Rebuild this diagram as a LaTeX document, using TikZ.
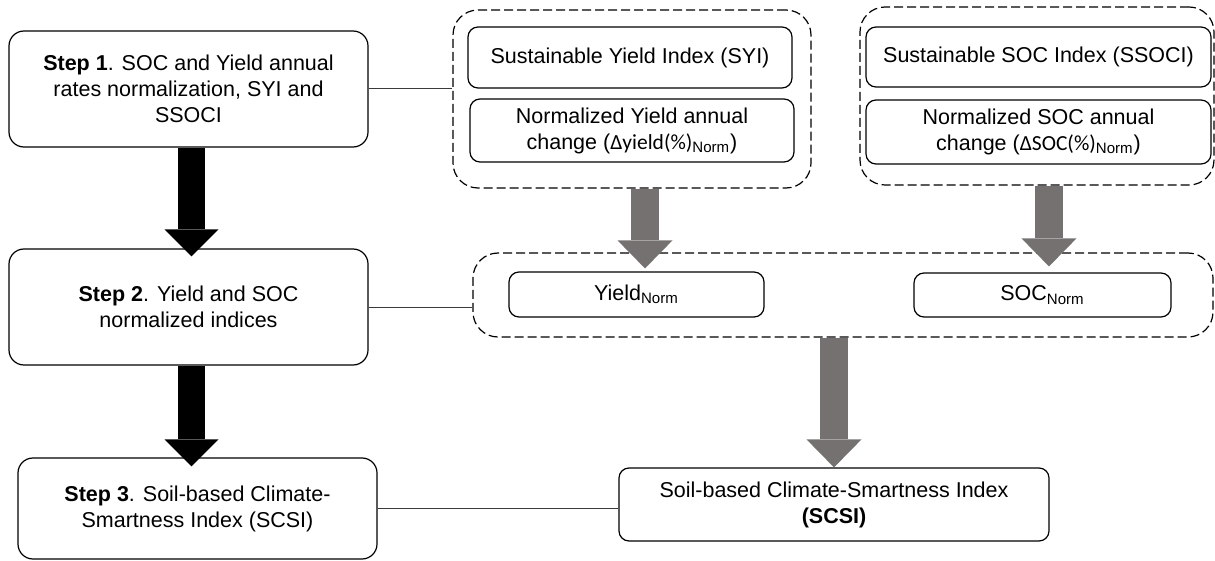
\documentclass[tikz,border=0pt]{standalone}
\usepackage{fontspec}
\setmainfont{Liberation Sans}
\newfontfamily\calibri{Carlito}
\usetikzlibrary{arrows.meta}
\definecolor{arrowgray}{HTML}{767171}
\definecolor{linegray}{HTML}{3A3A3A}
\tikzset{
  txt/.style={font=\fontsize{10.75}{13}\selectfont, align=center, inner sep=0pt},
  stepbox/.style={txt, draw, line width=0.6pt, rounded corners=7.5pt},
  itembox/.style={txt, draw, line width=0.6pt, rounded corners=5pt},
  groupbox/.style={draw, line width=0.6pt, dash pattern=on 4.5pt off 2pt, rounded corners=12.5pt, inner sep=0pt},
  link/.style={draw=linegray, line width=0.5pt},
  blackarrow/.style={draw=black, line width=13.5pt, -{Triangle[length=13.5pt, width=27pt, line width=0pt]}},
  grayarrow/.style={draw=arrowgray, line width=14pt, -{Triangle[length=14pt, width=27.5pt, line width=0pt]}}
}
\begin{document}
\begin{tikzpicture}[x=0.5pt, y=-0.5pt]
\useasboundingbox (0,0) rectangle (1215,561);
% steps on the left
\node[stepbox, minimum width=179.5pt, minimum height=58pt] (step1) at (188.5,89)
  {\textbf{Step 1}. SOC and Yield annual\\rates normalization, SYI and\\SSOCI};
\node[stepbox, minimum width=179.5pt, minimum height=58pt] (step2) at (188.5,307)
  {\textbf{Step 2}. Yield and SOC\\normalized indices};
\node[stepbox, minimum width=179.5pt, minimum height=50.5pt] (step3) at (197.5,508.5)
  {\textbf{Step 3}. Soil-based Climate-\\Smartness Index (SCSI)};

% dashed groups
\node[groupbox, minimum width=179pt, minimum height=89pt] (grpA) at (632,99) {};
\node[groupbox, minimum width=177pt, minimum height=89pt] (grpB) at (1037,96) {};
\node[groupbox, minimum width=370pt, minimum height=42pt] (grpC) at (843,295) {};

% indices
\node[itembox, minimum width=162pt, minimum height=30.5pt] (syi) at (630,57.5)
  {Sustainable Yield Index (SYI)};
\node[itembox, minimum width=162pt, minimum height=31.5pt] (dyld) at (632,130.5)
  {Normalized Yield annual\\change ({\calibri Δyield(\%)}\textsubscript{Norm})};
\node[itembox, minimum width=172.5pt, minimum height=30pt] (ssoci) at (1038.5,57)
  {Sustainable SOC Index (SSOCI)};
\node[itembox, minimum width=172.5pt, minimum height=32pt] (dsoc) at (1038.5,132)
  {Normalized SOC annual\\change ({\calibri ΔSOC(\%)}\textsubscript{Norm})};
\node[itembox, minimum width=127.5pt, minimum height=22.5pt] (ynorm) at (636.5,294.5)
  {Yield\textsubscript{Norm}};
\node[itembox, minimum width=128.5pt, minimum height=22pt] (snorm) at (1042.5,295)
  {SOC\textsubscript{Norm}};
\node[itembox, minimum width=215pt, minimum height=36.5pt] (scsi) at (834,504.5)
  {Soil-based Climate-Smartness Index\\\textbf{(SCSI)}};

% thin links
\draw[link] (step1.east) -- (step1.east -| grpA.west);
\draw[link] (step2.east) -- (step2.east -| grpC.west);
\draw[link] (step3.east) -- (step3.east -| scsi.west);

% block arrows
\draw[blackarrow] ([xshift=1.5pt]step1.south) -- ([xshift=1.5pt,yshift=-4pt]step2.north);
\draw[blackarrow] ([xshift=1.5pt]step2.south) -- ([xshift=-3pt,yshift=-4.5pt]step3.north);
\draw[grayarrow] ([xshift=6.5pt]grpA.south) -- ([xshift=4.25pt,yshift=1.5pt]ynorm.north);
\draw[grayarrow] ([xshift=6pt]grpB.south) -- ([xshift=3.25pt,yshift=3pt]snorm.north);
\draw[grayarrow] ([xshift=-4.5pt]grpC.south) -- (scsi.north);
\end{tikzpicture}
\end{document}
